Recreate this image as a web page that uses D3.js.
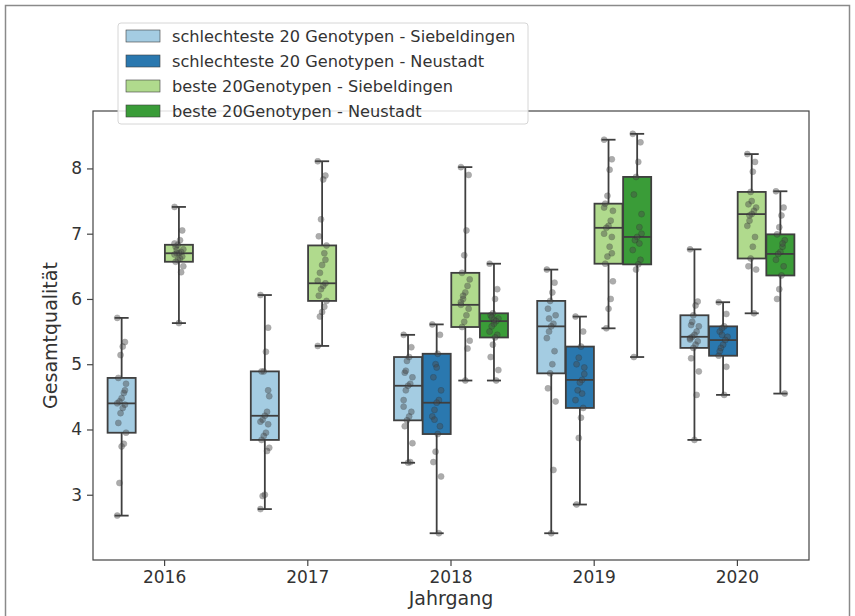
<!DOCTYPE html>
<html>
<head>
<meta charset="utf-8">
<script src="https://cdn.jsdelivr.net/npm/d3@7"></script>
<style>
  body { margin: 0; background: #fff; }
  svg { display: block; font-family: "DejaVu Sans", sans-serif; }
</style>
</head>
<body>
<div id="chart"></div>
<script>
// years on the x axis, hue groups in legend order
var years = ["2016", "2017", "2018", "2019", "2020"];
var groups = [
  "schlechteste 20 Genotypen - Siebeldingen",
  "schlechteste 20 Genotypen - Neustadt",
  "beste 20Genotypen - Siebeldingen",
  "beste 20Genotypen - Neustadt"
];
var colors = ["#a4cce2", "#2a78af", "#b0da8d", "#3a9c38"];

// box statistics, [group][year], null = no data for that year
var whiskerLo = [
  [2.68, 2.78, 3.49, 2.41, 3.84],
  [null, null, 2.41, 2.85, 4.53],
  [5.63, 5.28, 4.75, 5.55, 5.78],
  [null, null, 4.75, 5.11, 4.55]
];
var q1 = [
  [3.95, 3.84, 4.14, 4.86, 5.25],
  [null, null, 3.93, 4.33, 5.13],
  [6.57, 5.97, 5.57, 6.54, 6.62],
  [null, null, 5.41, 6.53, 6.36]
];
var median = [
  [4.40, 4.21, 4.67, 5.58, 5.42],
  [null, null, 4.41, 4.76, 5.37],
  [6.70, 6.24, 5.91, 7.09, 7.30],
  [null, null, 5.66, 6.95, 6.69]
];
var q3 = [
  [4.79, 4.89, 5.11, 5.97, 5.75],
  [null, null, 5.16, 5.27, 5.58],
  [6.83, 6.82, 6.40, 7.46, 7.64],
  [null, null, 5.78, 7.87, 6.99]
];
var whiskerHi = [
  [5.71, 6.06, 5.45, 6.45, 6.76],
  [null, null, 5.61, 5.73, 5.95],
  [7.41, 8.11, 8.02, 8.44, 8.22],
  [null, null, 6.54, 8.53, 7.65]
];

// single genotype scores, [group][year]
var points = [
  [
    [5.71, 5.34, 5.27, 5.14, 4.79, 4.70, 4.56, 4.48, 4.43, 4.40, 4.38, 4.33, 4.25, 4.10, 3.95, 3.78, 3.74, 3.18, 2.68, 4.60],
    [6.06, 5.56, 5.19, 4.89, 4.89, 4.51, 4.27, 4.21, 4.15, 4.12, 4.08, 3.95, 3.90, 3.84, 3.72, 3.67, 3.00, 2.98, 2.78, 4.60],
    [5.45, 5.26, 5.11, 5.05, 4.87, 4.80, 4.70, 4.67, 4.60, 4.45, 4.27, 4.20, 4.14, 4.05, 3.79, 3.50, 3.49, 4.90, 4.35],
    [6.45, 6.25, 6.10, 5.97, 5.85, 5.75, 5.62, 5.58, 5.50, 5.40, 5.20, 5.00, 4.86, 4.63, 4.43, 3.38, 2.41, 5.70],
    [6.76, 5.96, 5.90, 5.75, 5.60, 5.58, 5.50, 5.45, 5.42, 5.40, 5.35, 5.30, 5.25, 5.09, 4.89, 4.53, 3.84, 5.65, 5.38]
  ],
  [
    [],
    [],
    [5.61, 5.45, 5.16, 5.00, 4.80, 4.60, 4.45, 4.41, 4.30, 4.20, 4.05, 3.93, 3.66, 3.50, 3.28, 2.41, 4.95, 4.15],
    [5.73, 5.50, 5.27, 5.10, 5.00, 4.85, 4.76, 4.72, 4.60, 4.45, 4.33, 4.18, 3.87, 2.85, 4.95, 4.55],
    [5.95, 5.77, 5.58, 5.55, 5.50, 5.42, 5.37, 5.30, 5.25, 5.13, 4.96, 4.53, 5.45, 5.20]
  ],
  [
    [7.41, 7.05, 6.90, 6.83, 6.80, 6.76, 6.72, 6.70, 6.70, 6.68, 6.65, 6.62, 6.60, 6.57, 6.50, 6.41, 5.63, 6.75, 6.85],
    [8.11, 7.89, 7.83, 7.22, 6.96, 6.82, 6.70, 6.52, 6.40, 6.28, 6.24, 6.20, 6.15, 6.05, 5.97, 5.88, 5.80, 5.73, 5.28, 6.60],
    [8.02, 7.90, 7.05, 6.67, 6.40, 6.30, 6.20, 6.10, 6.00, 5.91, 5.85, 5.75, 5.65, 5.57, 5.36, 5.24, 4.75, 6.05, 5.95],
    [8.44, 8.14, 7.98, 7.58, 7.46, 7.35, 7.20, 7.12, 7.09, 7.00, 6.95, 6.80, 6.65, 6.54, 6.27, 6.00, 5.85, 5.55, 7.40, 6.70],
    [8.22, 8.10, 7.95, 7.64, 7.45, 7.40, 7.35, 7.30, 7.28, 7.12, 6.95, 6.80, 6.62, 6.50, 6.45, 5.78, 7.50, 7.20]
  ],
  [
    [],
    [],
    [6.54, 6.15, 6.00, 5.78, 5.75, 5.70, 5.66, 5.62, 5.58, 5.50, 5.45, 5.41, 5.30, 5.11, 4.91, 4.75, 5.68, 5.72],
    [8.53, 8.40, 8.10, 7.87, 7.60, 7.30, 7.10, 6.95, 6.90, 6.75, 6.60, 6.53, 6.45, 5.11, 7.00, 6.85],
    [7.65, 7.40, 7.28, 7.10, 6.99, 6.90, 6.80, 6.72, 6.69, 6.60, 6.50, 6.36, 6.15, 6.00, 4.55, 6.85]
  ]
];

var yTicks = [3, 4, 5, 6, 7, 8];

(function() {
  var W = 855, H = 616,
    margin = { top: 111, right: 46, bottom: 56, left: 93 },
    width = W - margin.left - margin.right,
    height = H - margin.top - margin.bottom,
    edge = "#3f3f3f";

  var svg = d3.select("#chart").append("svg")
    .attr("width", W)
    .attr("height", H);

  // outer frame of the figure
  svg.append("path")
    .attr("d", "M5.5," + (H + 2) + "V5.5H849.5V" + (H + 2))
    .attr("fill", "none")
    .attr("stroke", "#8a8a8a")
    .attr("stroke-width", 1.5);

  var g = svg.append("g")
    .attr("transform", "translate(" + margin.left + "," + margin.top + ")");

  var x = d3.scaleBand().domain(years).range([0, width]).padding(0);
  var bw = x.bandwidth();
  var hue = d3.scaleBand().domain(d3.range(groups.length))
    .range([-0.4 * bw, 0.4 * bw]).padding(0);
  var boxW = hue.bandwidth() * 0.98;

  var y = d3.scaleLinear().domain([2.0, 8.88]).range([height, 0]);

  // axes
  var xAxis = g.append("g")
    .attr("transform", "translate(0," + height + ")")
    .call(d3.axisBottom(x).tickSize(6).tickPadding(5));
  var yAxis = g.append("g")
    .call(d3.axisLeft(y).tickValues(yTicks).tickFormat(d3.format("d")).tickSize(6).tickPadding(5));

  [xAxis, yAxis].forEach(function(a) {
    a.select(".domain").remove();
    a.selectAll(".tick line").attr("stroke", "#444").attr("stroke-width", 1.2);
    a.selectAll(".tick text")
      .attr("fill", "#333")
      .style("font-size", "17px")
      .style("font-family", "DejaVu Sans, sans-serif");
  });

  g.append("rect")
    .attr("width", width)
    .attr("height", height)
    .attr("fill", "none")
    .attr("stroke", "#444")
    .attr("stroke-width", 1.2);

  // boxes
  groups.forEach(function(name, gi) {
    years.forEach(function(yr, yi) {
      if (median[gi][yi] == null) return;
      var cx = x(yr) + bw / 2 + hue(gi) + hue.bandwidth() / 2;
      var bg = g.append("g");
      bg.append("line")
        .attr("x1", cx).attr("x2", cx)
        .attr("y1", y(whiskerLo[gi][yi])).attr("y2", y(q1[gi][yi]));
      bg.append("line")
        .attr("x1", cx).attr("x2", cx)
        .attr("y1", y(q3[gi][yi])).attr("y2", y(whiskerHi[gi][yi]));
      [whiskerLo[gi][yi], whiskerHi[gi][yi]].forEach(function(v) {
        bg.append("line")
          .attr("x1", cx - boxW / 4).attr("x2", cx + boxW / 4)
          .attr("y1", y(v)).attr("y2", y(v));
      });
      bg.append("rect")
        .attr("x", cx - boxW / 2)
        .attr("y", y(q3[gi][yi]))
        .attr("width", boxW)
        .attr("height", y(q1[gi][yi]) - y(q3[gi][yi]))
        .attr("fill", colors[gi]);
      bg.append("line")
        .attr("x1", cx - boxW / 2).attr("x2", cx + boxW / 2)
        .attr("y1", y(median[gi][yi])).attr("y2", y(median[gi][yi]));
      bg.selectAll("line, rect")
        .attr("stroke", edge)
        .attr("stroke-width", 1.8);

      // strip points with a small fixed jitter
      bg.selectAll("circle")
        .data(points[gi][yi])
        .enter().append("circle")
        .attr("cx", function(d, i) { return cx + ((i * 7) % 9 - 4) * 1.1; })
        .attr("cy", function(d) { return y(d); })
        .attr("r", 3)
        .attr("fill", "#4a4a4a")
        .attr("stroke", "#222")
        .attr("stroke-width", 0.5)
        .attr("opacity", 0.45);
    });
  });

  // axis titles
  svg.append("text")
    .attr("x", margin.left + width / 2)
    .attr("y", 605)
    .attr("text-anchor", "middle")
    .attr("fill", "#333")
    .style("font-size", "19px")
    .text("Jahrgang");

  svg.append("text")
    .attr("transform", "translate(57," + (margin.top + height / 2) + ") rotate(-90)")
    .attr("text-anchor", "middle")
    .attr("fill", "#333")
    .style("font-size", "19px")
    .text("Gesamtqualität");

  // legend
  var leg = svg.append("g").attr("transform", "translate(118,23)");
  leg.append("rect")
    .attr("width", 410)
    .attr("height", 101)
    .attr("rx", 3)
    .attr("fill", "#fff")
    .attr("fill-opacity", 0.85)
    .attr("stroke", "#d6d6d6");
  var item = leg.selectAll(".item")
    .data(groups)
    .enter().append("g")
    .attr("class", "item")
    .attr("transform", function(d, i) { return "translate(8," + (13 + i * 25) + ")"; });
  item.append("rect")
    .attr("y", -6)
    .attr("width", 34)
    .attr("height", 12)
    .attr("fill", function(d, i) { return colors[i]; })
    .attr("stroke", edge)
    .attr("stroke-width", 0.6);
  item.append("text")
    .attr("x", 46)
    .attr("dy", "0.35em")
    .attr("fill", "#333")
    .style("font-size", "16.2px")
    .text(function(d) { return d; });
})();
</script>
</body>
</html>
